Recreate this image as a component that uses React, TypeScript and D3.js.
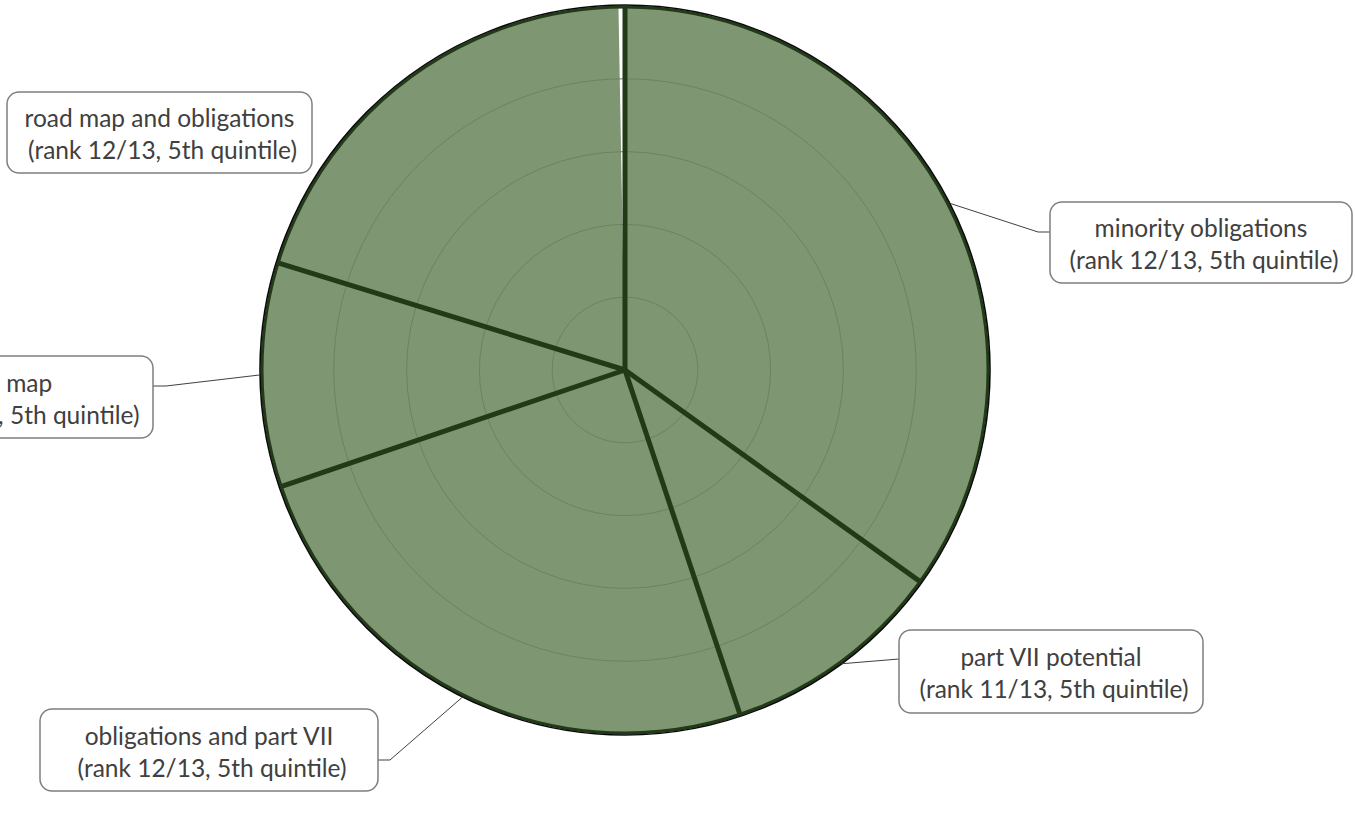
import React from "react";
import * as d3 from "d3";

// ---- data ----
const categories = [
  "minority obligations",
  "part VII potential",
  "obligations and part VII",
  "road map",
  "road map and obligations",
];
const ranks = ["12/13", "11/13", "12/13", "12/13", "12/13"];
const quintiles = [5, 5, 5, 5, 5];
const shares = [35, 10, 25, 10, 20];
const ringLevels = [1, 2, 3, 4, 5];

// ---- layout (label boxes, not data) ----
type Box = { x: number; y: number; w: number; h: number; anchor?: [number, number]; elbow?: [number, number] };
const labelBoxes: Box[] = [
  { x: 1050, y: 202, w: 302, h: 81, anchor: [1050, 232], elbow: [1038, 232] },
  { x: 899, y: 630, w: 304, h: 83, anchor: [899, 659] },
  { x: 40, y: 709, w: 338, h: 82, anchor: [378, 760], elbow: [390, 760] },
  { x: -149, y: 356, w: 302, h: 82, anchor: [153, 386], elbow: [166, 386] },
  { x: 7, y: 92, w: 305, h: 81 },
];

const W = 1355;
const H = 815;
const CX = 625;
const CY = 370;
const R = 364;
const FILL = "#7f9672";
const EDGE = "#213a17";
const GRID = "#6c8361";
const FONT = "Lato, 'Open Sans', sans-serif";
const GAP = 0.018;

export default function App() {
  const rows = categories.map((c, i) => ({
    name: c,
    rank: ranks[i],
    q: quintiles[i],
    share: shares[i],
  }));
  const rScale = d3.scaleLinear().domain([0, 5]).range([0, R]);
  const pie = d3
    .pie<any>()
    .sort(null)
    .value((d) => d.share)
    .startAngle(0)
    .endAngle(2 * Math.PI - GAP);
  const arcs = pie(rows);
  const arcGen = d3
    .arc<any>()
    .innerRadius(0)
    .outerRadius((d: any) => rScale(d.data.q));

  const polar = (a: number, r: number): [number, number] => [
    CX + r * Math.sin(a),
    CY - r * Math.cos(a),
  ];

  return (
    <svg
      width={W}
      height={H}
      style={{ position: "absolute", left: 0, top: 0, background: "#fff" }}
    >
      <g transform={`translate(${CX},${CY})`}>
        {arcs.map((a, i) => (
          <path key={"f" + i} d={arcGen(a) as string} fill={FILL} stroke="none" />
        ))}
        {ringLevels.slice(0, -1).map((l) => (
          <circle key={"g" + l} r={rScale(l)} fill="none" stroke={GRID} strokeWidth={1} />
        ))}
        {arcs.map((a, i) => {
          const r = rScale(a.data.q);
          return (
            <line
              key={"s" + i}
              x1={0}
              y1={0}
              x2={r * Math.sin(a.startAngle)}
              y2={-r * Math.cos(a.startAngle)}
              stroke={EDGE}
              strokeWidth={5}
            />
          );
        })}
        <circle r={R - 1} fill="none" stroke={EDGE} strokeWidth={3} />
        <circle r={R + 1} fill="none" stroke="#0a0a0a" strokeWidth={1.6} />
      </g>
      {arcs.map((a, i) => {
        const b = labelBoxes[i];
        const mid = (a.startAngle + a.endAngle) / 2;
        const p0 = polar(mid, rScale(a.data.q) + 1);
        const pts: [number, number][] = [p0];
        if (b.elbow) pts.push(b.elbow);
        if (b.anchor) pts.push(b.anchor);
        const cx = b.x + b.w / 2;
        const cy = b.y + b.h / 2;
        return (
          <g key={"l" + i}>
            {b.anchor && (
              <path
                d={d3.line()(pts) as string}
                fill="none"
                stroke="#404040"
                strokeWidth={1}
              />
            )}
            <rect
              x={b.x}
              y={b.y}
              width={b.w}
              height={b.h}
              rx={12}
              ry={12}
              fill="#fff"
              stroke="#7f7f7f"
              strokeWidth={1.5}
            />
            <text
              x={cx}
              fontFamily={FONT}
              fontSize={24.5}
              fill="#404040"
              textAnchor="middle"
            >
              <tspan x={cx} y={cy - 5.5}>
                {a.data.name}
              </tspan>
              <tspan x={cx + 3} y={cy + 26.5}>
                {`(rank ${a.data.rank}, ${a.data.q}th quintile)`}
              </tspan>
            </text>
          </g>
        );
      })}
    </svg>
  );
}
